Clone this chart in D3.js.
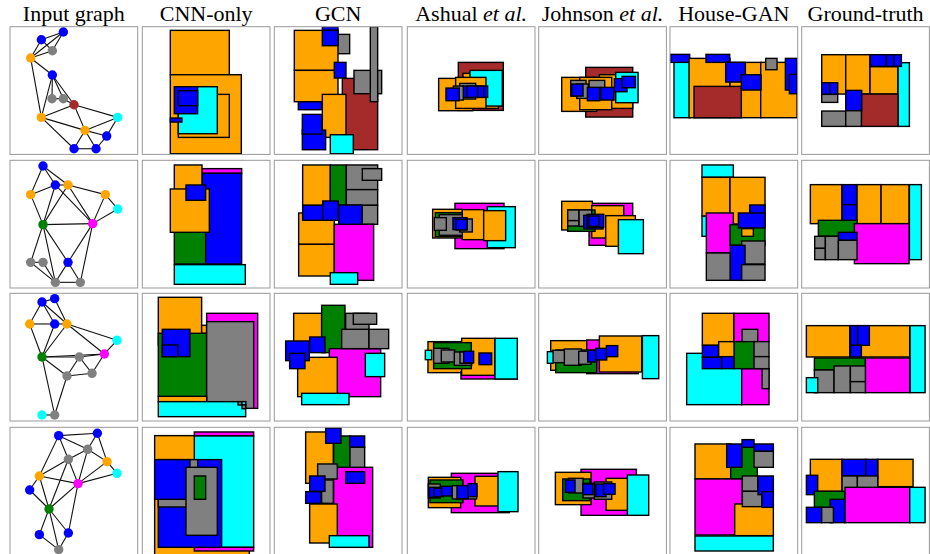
<!DOCTYPE html>
<html>
<head>
<meta charset="utf-8">
<script src="https://cdn.jsdelivr.net/npm/d3@7"></script>
<style>
  html, body { margin: 0; padding: 0; background: #fff; overflow: hidden; }
  svg { display: block; }
  text { font-family: "Liberation Serif", serif; fill: #000; }
  .soft { filter: blur(0.3px); }
</style>
</head>
<body>
<div id="chart"></div>
<script>
'use strict';

// room types: o orange, b blue, g gray, r brown, c cyan, m magenta, n green
const typeKeys = ['o', 'b', 'g', 'r', 'c', 'm', 'n'];
const typeColors = ['#ffa500', '#0000ff', '#808080', '#a52a2a', '#00ffff', '#ff00ff', '#008000'];

const titles = ['Input graph', 'CNN-only', 'GCN', 'Ashual', 'Johnson', 'House-GAN', 'Ground-truth'];
const titleSuffix = ['', '', '', ' et al.', ' et al.', '', ''];

// at 3x, one list per row
const graphNodes = [
  [['b',190,96],['b',124,119],['g',157,152],['o',92,174],['b',157,225],['g',156,296],['g',190,296],['r',222,314],['o',124,352],['c',353,352],['o',255,391],['b',320,408],['b',222,446],['b',288,446]],
  [['b',129,24],['b',166,81],['o',204,81],['o',92,110],['o',316,110],['c',353,153],['n',129,200],['m',278,197],['g',92,313],['g',129,313],['b',204,313],['g',166,373],['g',241,373]],
  [['b',126,36],['b',164,26],['o',89,102],['b',164,102],['o',201,102],['c',351,151],['m',313,192],['n',126,201],['g',238,201],['g',201,258],['g',276,250],['c',126,375],['g',164,375]],
  [['b',176,35],['b',292,28],['g',263,76],['g',205,106],['o',321,113],['c',351,148],['o',118,156],['m',234,179],['b',89,198],['n',147,255],['b',118,332],['b',205,327],['g',176,377]]
];
const graphEdges = [
  [[0,1],[0,2],[0,3],[1,2],[1,3],[2,3],[3,4],[3,8],[4,5],[4,6],[4,7],[4,8],[5,6],[6,7],[7,8],[7,9],[7,10],[8,10],[8,12],[9,10],[9,11],[10,11],[10,12],[10,13],[11,13],[12,13]],
  [[0,1],[0,2],[0,3],[1,2],[1,3],[1,6],[1,7],[2,6],[2,7],[2,4],[3,6],[4,5],[4,7],[5,7],[6,7],[6,8],[6,11],[6,10],[7,10],[7,12],[8,9],[8,11],[9,11],[10,11],[10,12],[11,12]],
  [[0,1],[0,2],[0,3],[0,4],[1,4],[2,3],[2,7],[3,7],[3,4],[4,7],[4,5],[4,6],[5,6],[6,7],[7,8],[8,6],[7,9],[7,12],[8,9],[8,10],[9,10],[6,10],[9,12],[11,12]],
  [[0,1],[0,2],[0,3],[0,6],[1,2],[1,4],[2,3],[2,4],[2,7],[3,6],[3,7],[3,9],[4,5],[4,7],[5,7],[6,7],[6,8],[6,9],[8,9],[7,9],[7,11],[9,10],[9,11],[9,12],[10,12],[11,12]]
];

const cnnRooms = [
  [['o',511,91,688,224],['o',511,224,724,461],['o',535,283,688,412],['c',535,260,652,401],['b',523,260,593,341],['b',535,272,593,317],['b',511,354,546,366]],
  [['m',605,32,725,46],['b',605,46,725,318],['n',523,222,617,318],['o',523,21,606,116],['o',511,93,628,223],['b',558,81,617,127],['c',523,320,736,379]],
  [['o',475,22,605,165],['o',605,106,620,130],['n',475,130,620,320],['m',620,70,773,355],['g',620,95,761,355],['o',475,319,620,335],['b',487,118,570,200],['b',487,165,534,200],['c',475,335,737,380],['g',714,335,726,345],['c',726,335,737,345],['g',726,345,737,356]],
  [['o',464,35,748,400],['m',583,24,761,36],['c',583,36,761,370],['m',583,370,761,381],['b',475,107,665,370],['g',475,107,593,249],['b',464,107,570,226],['g',558,130,652,334],['n',583,156,617,226]]
];
const gcnRooms = [
  [['g',979,103,1049,161],['o',883,91,1014,211],['b',967,80,1014,91],['b',967,91,1014,137],['o',883,211,1014,305],['b',1003,187,1038,234],['r',1027,235,1133,449],['g',1062,211,1145,281],['g',1111,80,1133,305],['b',895,305,966,329],['o',967,283,1038,412],['b',907,390,977,449],['b',907,343,966,402],['c',991,404,1060,461]],
  [['o',908,21,991,142],['n',991,21,1039,142],['g',1039,21,1133,95],['g',1087,32,1145,67],['g',1039,95,1133,142],['g',1086,142,1133,199],['o',896,165,1003,259],['o',896,259,1003,354],['m',1003,199,1121,367],['b',908,142,968,187],['b',968,129,1015,187],['b',1016,141,1086,199],['c',991,344,1073,379]],
  [['o',881,70,965,165],['n',965,46,1035,188],['m',988,176,1142,320],['g',1037,70,1107,129],['g',1060,70,1130,103],['g',1025,118,1107,176],['g',1107,118,1166,176],['o',893,202,1012,320],['b',857,153,928,212],['b',929,141,975,188],['b',869,190,915,236],['c',1096,190,1154,260],['c',905,310,1047,344]],
  [['o',917,24,1000,178],['n',1001,36,1050,153],['b',977,12,1023,58],['b',1049,36,1094,70],['g',1050,70,1094,143],['m',1001,130,1118,370],['o',929,240,1012,357],['g',953,120,1012,165],['g',965,168,1000,238],['b',929,156,975,202],['b',917,203,963,238],['b',1037,143,1094,178],['c',988,335,1107,370]]
];
const ashualRooms = [
  [['r',160,187,295,331],['o',101,235,203,332],['o',174,220,280,325],['c',195,211,292,318],['o',152,232,243,325],['g',164,250,212,297],['b',174,258,248,292],['b',186,258,218,292],['b',218,258,236,292],['g',145,258,175,300],['b',123,264,163,302]],
  [['m',150,136,297,272],['c',247,146,331,269],['o',83,154,172,240],['n',91,164,187,236],['o',172,155,237,245],['g',103,170,172,232],['g',88,179,124,217],['o',236,158,302,248],['g',164,183,202,222],['b',144,179,186,215],['b',153,184,186,216]],
  [['o',69,155,200,248],['m',168,245,337,267],['o',170,145,270,256],['n',86,158,199,236],['g',86,175,132,220],['g',109,180,149,216],['g',148,186,200,226],['g',165,186,204,220],['b',176,184,206,218],['c',61,181,80,209],['c',270,145,337,267],['b',222,189,260,224]],
  [['m',139,148,313,266],['o',70,160,167,251],['n',75,168,174,236],['o',210,157,285,246],['c',279,143,339,263],['g',142,185,215,225],['g',70,180,106,222],['b',72,190,106,220],['b',87,193,115,218],['b',110,187,141,216],['b',156,185,190,224],['b',190,179,216,218]]
];
const johnsonRooms = [
  [['r',542,202,683,351],['o',583,224,683,325],['c',632,217,699,308],['o',470,232,575,334],['o',524,232,620,329],['g',497,241,543,288],['g',552,241,599,290],['g',515,252,550,295],['b',500,252,534,288],['b',547,262,584,302],['b',587,262,627,300],['b',628,236,666,275],['b',651,229,691,263]],
  [['m',552,136,683,262],['o',470,130,562,216],['o',560,143,656,240],['n',488,156,570,220],['g',488,156,522,188],['g',488,188,522,204],['g',522,156,560,205],['o',602,173,691,265],['b',536,172,594,213],['b',546,169,596,208],['b',551,174,582,205],['c',640,185,715,287]],
  [['o',437,152,560,241],['m',545,150,700,251],['n',452,180,575,248],['o',583,138,710,246],['g',442,181,490,218],['g',478,177,529,226],['g',521,184,558,223],['b',548,181,575,216],['b',572,175,605,210],['b',604,167,638,200],['c',427,185,444,220],['c',712,137,761,266]],
  [['m',528,136,694,274],['o',451,145,558,242],['n',473,165,555,230],['g',490,163,534,207],['o',603,163,670,259],['g',534,178,578,222],['g',568,174,620,226],['b',481,168,510,205],['b',534,180,564,212],['b',572,180,603,218],['b',596,179,630,211],['c',667,153,731,274]]
];
const houseganRooms = [
  [['c',807,175,855,353],['b',797,163,854,187],['o',852,175,975,353],['o',975,187,1068,353],['o',1067,187,1176,353],['r',867,259,1009,353],['b',903,163,974,187],['b',962,187,1021,246],['b',1009,224,1068,270],['g',1082,175,1116,209],['b',1141,175,1176,270],['b',1153,223,1176,281]],
  [['c',891,21,985,58],['c',891,174,905,235],['o',891,58,975,174],['o',975,58,1080,198],['m',904,165,985,285],['n',975,200,1080,262],['o',1010,212,1045,235],['g',904,285,976,367],['b',1034,141,1080,175],['b',1000,165,1080,210],['g',1010,249,1080,318],['b',976,262,1020,367],['g',1010,320,1080,367]],
  [['c',845,190,1010,344],['m',1010,236,1092,344],['g',1071,236,1092,296],['o',892,70,987,166],['m',987,70,1092,155],['g',1011,118,1058,164],['n',987,155,1047,236],['g',1047,155,1092,200],['g',1047,200,1092,236],['b',892,166,941,202],['o',941,155,987,200],['b',892,202,950,236],['b',950,200,987,236]],
  [['o',870,60,977,165],['n',977,70,1057,165],['b',965,60,1011,130],['b',1011,47,1047,70],['b',1047,60,1105,82],['g',1047,82,1105,130],['m',870,165,1012,333],['n',1012,165,1058,248],['o',989,240,1105,335],['g',1012,156,1058,202],['g',1012,202,1071,248],['b',1059,156,1105,212],['b',1071,203,1105,250],['c',870,336,1105,381]]
];
const truthRooms = [
  [['o',1250,164,1322,282],['o',1322,164,1395,282],['o',1395,200,1479,282],['c',1479,188,1513,379],['r',1369,282,1479,379],['b',1395,164,1444,199],['b',1444,164,1466,199],['b',1466,164,1489,199],['b',1322,271,1370,332],['b',1250,248,1274,283],['b',1274,248,1298,283],['g',1250,283,1298,307],['g',1250,333,1322,379],['g',1322,332,1369,379]],
  [['o',1216,80,1311,197],['b',1311,80,1356,140],['b',1311,140,1356,197],['o',1356,80,1428,197],['o',1428,80,1512,197],['c',1513,80,1549,305],['n',1240,187,1356,235],['m',1348,197,1512,317],['b',1300,223,1356,247],['g',1229,235,1261,271],['g',1229,271,1261,305],['g',1261,235,1300,305],['g',1300,247,1356,305]],
  [['o',1204,107,1334,201],['o',1334,107,1514,201],['b',1336,107,1358,166],['b',1358,107,1393,166],['b',1336,166,1369,201],['c',1515,107,1560,308],['n',1228,204,1381,240],['m',1381,204,1514,308],['g',1228,240,1287,308],['g',1287,228,1336,308],['g',1336,228,1381,275],['g',1336,275,1381,308],['c',1204,263,1238,308]],
  [['o',1216,106,1311,202],['o',1418,106,1524,188],['b',1311,106,1382,156],['b',1382,106,1418,164],['g',1311,156,1357,212],['g',1357,156,1418,212],['b',1204,154,1238,212],['n',1228,202,1320,250],['m',1320,190,1514,296],['c',1514,190,1560,296],['b',1275,226,1320,296],['b',1204,250,1250,296],['g',1250,250,1285,296]]
];

const width = 930, height = 554;
const panelSize = 127.7;
const columnX = [10, 142.3, 274.3, 407.3, 538.7, 670, 801.7];
const rowY = [26.7, 160.3, 293.3, 427.3];
// where each panel starts in the 3x readings above
const columnOrigin = [30, 427, 823, 7, 401, 795, 1190];
const rowOrigin = [80, 7, 10, 10];

const color = d3.scaleOrdinal().domain(typeKeys).range(typeColors);

let svg = d3.select('#chart').append('svg')
    .attr('width', width)
    .attr('height', height);

// titles
const titleText = svg.selectAll('text.title')
    .data(titles)
    .enter().append('text')
    .attr('class', 'title')
    .attr('x', (d, i) => columnX[i] + panelSize / 2)
    .attr('y', 21)
    .attr('text-anchor', 'middle')
    .style('font-size', '22px')
    .text(d => d);
titleText.append('tspan')
    .style('font-style', 'italic')
    .text((d, i) => titleSuffix[i]);

const roomColumns = [null, cnnRooms, gcnRooms, ashualRooms, johnsonRooms, houseganRooms, truthRooms];

rowY.forEach(function(top, row) {
    columnX.forEach(function(left, col) {
        let x = d3.scaleLinear()
            .domain([columnOrigin[col], columnOrigin[col] + 383])
            .range([left, left + panelSize]);
        let y = d3.scaleLinear()
            .domain([rowOrigin[row], rowOrigin[row] + 383])
            .range([top, top + panelSize]);

        let clipId = 'clip-' + row + '-' + col;
        svg.append('clipPath').attr('id', clipId)
            .append('rect')
            .attr('x', left).attr('y', top)
            .attr('width', panelSize).attr('height', panelSize);

        let g = svg.append('g');
        let inner = g.append('g')
            .attr('class', 'soft')
            .attr('clip-path', 'url(#' + clipId + ')');

        if (col === 0) {
            let nodes = graphNodes[row];
            inner.selectAll('line')
                .data(graphEdges[row])
                .enter().append('line')
                .attr('x1', d => x(nodes[d[0]][1]))
                .attr('y1', d => y(nodes[d[0]][2]))
                .attr('x2', d => x(nodes[d[1]][1]))
                .attr('y2', d => y(nodes[d[1]][2]))
                .attr('stroke', '#111')
                .attr('stroke-width', 1.1);
            inner.selectAll('circle')
                .data(nodes)
                .enter().append('circle')
                .attr('cx', d => x(d[1]))
                .attr('cy', d => y(d[2]))
                .attr('r', 4.7)
                .attr('fill', d => color(d[0]));
        } else {
            inner.selectAll('rect')
                .data(roomColumns[col][row])
                .enter().append('rect')
                .attr('x', d => x(d[1]))
                .attr('y', d => y(d[2]))
                .attr('width', d => x(d[3]) - x(d[1]))
                .attr('height', d => y(d[4]) - y(d[2]))
                .attr('fill', d => color(d[0]))
                .attr('stroke', '#000')
                .attr('stroke-width', 1.4);
        }

        g.append('rect')
            .attr('x', left).attr('y', top)
            .attr('width', panelSize).attr('height', panelSize)
            .attr('fill', 'none')
            .attr('stroke', '#999')
            .attr('stroke-width', 1);
    });
});
</script>
</body>
</html>
